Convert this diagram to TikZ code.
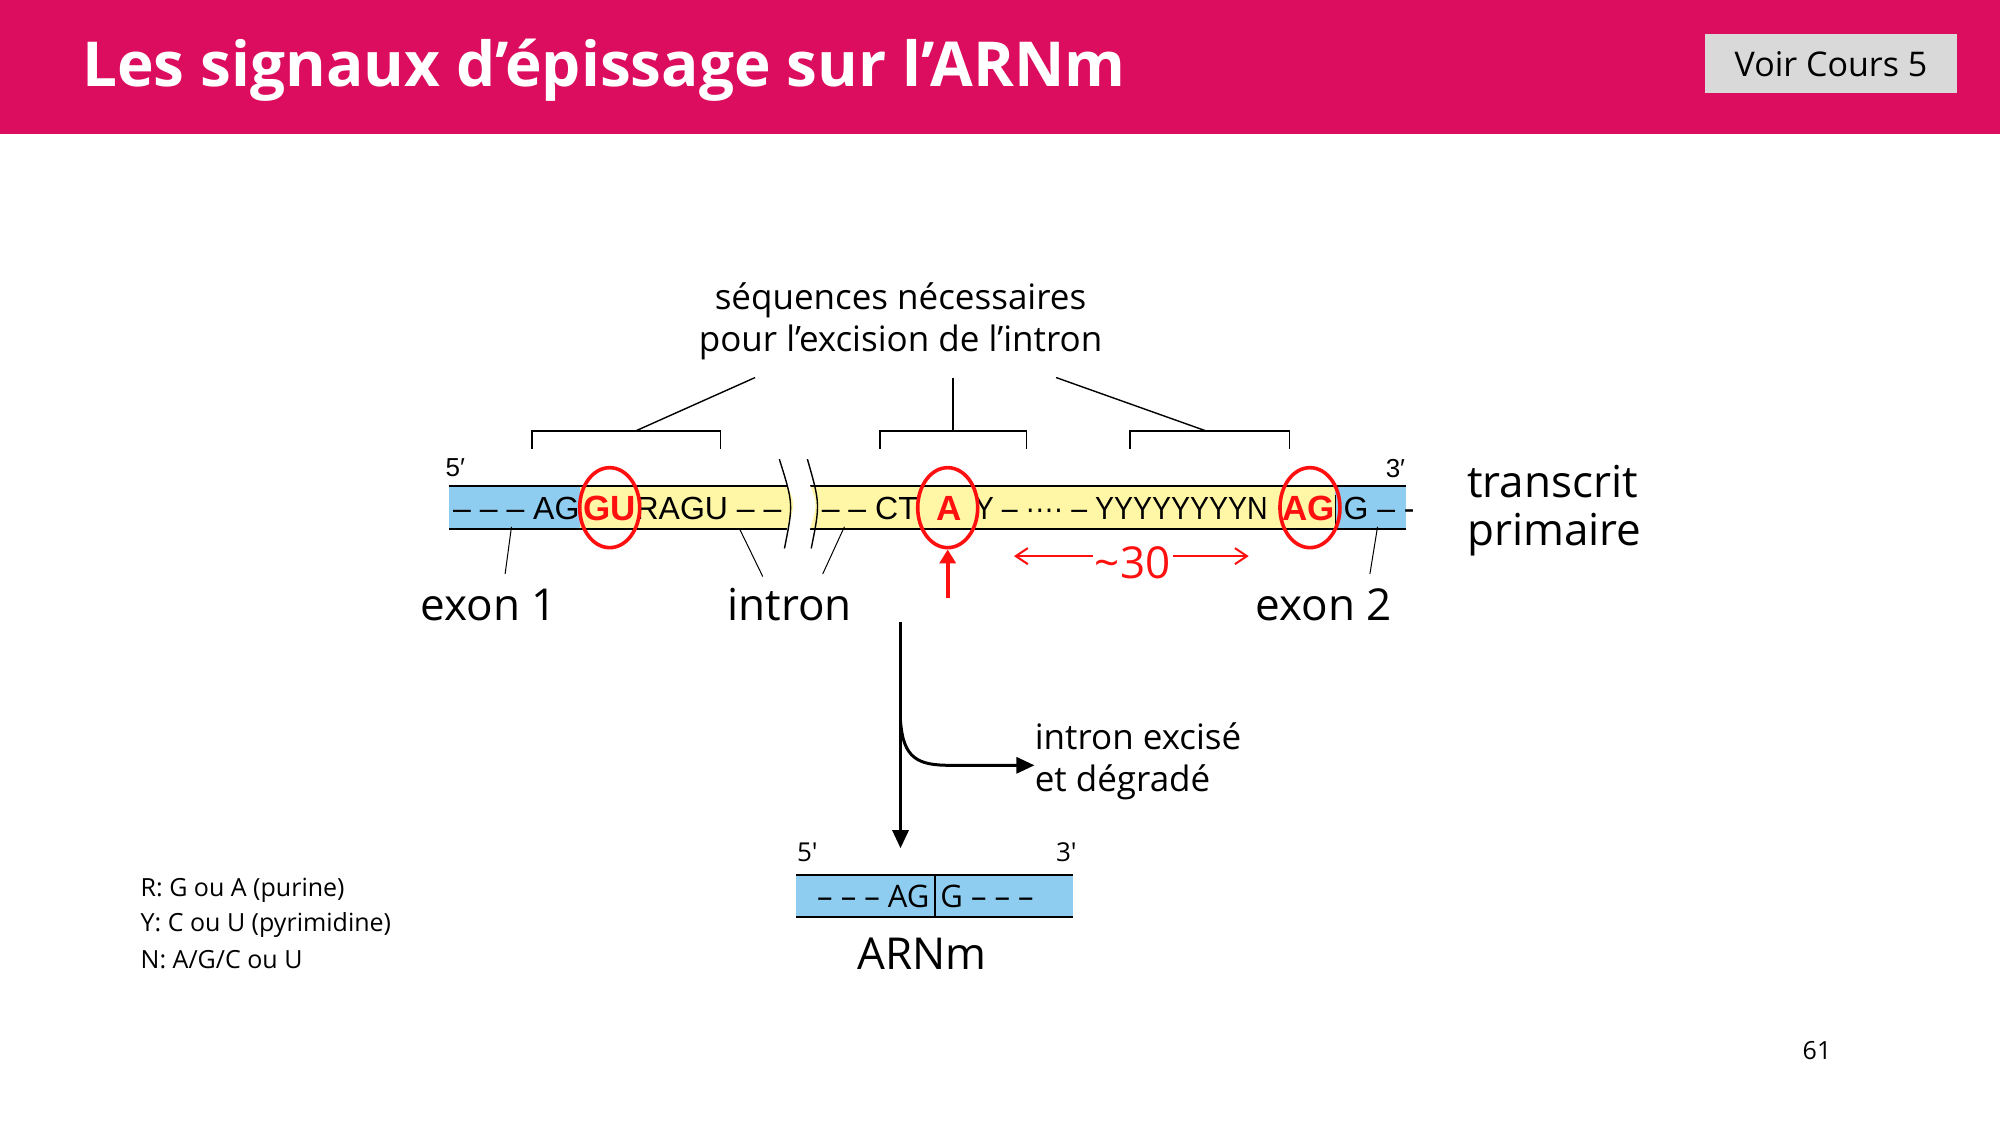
\documentclass[tikz,border=0pt]{standalone}
\usepackage{fontspec}
\setmainfont{Open Sans}
\newfontfamily\seqf{Liberation Sans}
\usetikzlibrary{arrows.meta}
\definecolor{hdr}{HTML}{DC0C5E}
\definecolor{bblue}{HTML}{8FCDF0}
\definecolor{byel}{HTML}{FFF6A6}
\definecolor{rred}{HTML}{FF1010}
\tikzset{
  lbl/.style={inner sep=0pt,font=\fontsize{22}{24}\selectfont},
  mid/.style={inner sep=0pt,font=\fontsize{17.5}{21}\selectfont,align=left},
  seq/.style={inner sep=0pt,font=\seqf\fontsize{16}{18}\selectfont},
  redseq/.style={inner sep=0pt,text=rred,font=\seqf\bfseries\fontsize{17.5}{18}\selectfont},
  prime/.style={inner sep=0pt,font=\seqf\fontsize{13}{14}\selectfont},
  ring/.style={draw=rred,line width=1.8pt,ellipse,minimum width=30pt,minimum height=40pt},
  brk/.style={line width=0.7pt},
  rarrow/.style={draw=rred,line width=1pt,-{Straight Barb[length=6pt,width=8pt]}},
  legend/.style={inner sep=0pt,anchor=west,font=\fontsize{12.5}{15}\selectfont}
}
\usetikzlibrary{shapes.geometric}
\begin{document}
\begin{tikzpicture}[x=0.6378pt,y=-0.6378pt]
\useasboundingbox (0,0) rectangle (1568,882);
\fill[white] (0,0) rectangle (1568,882);
\fill[hdr] (0,0) rectangle (1568,105);
\node[anchor=west,inner sep=0pt,text=white,font=\bfseries\fontsize{31}{34}\selectfont] (title) at (64,55) {Les signaux d’épissage sur l’ARNm};
\node[fill=gray!30,minimum width=197*0.6378pt,minimum height=46*0.6378pt,inner sep=0pt,font=\fontsize{17}{20}\selectfont] (voir) at (1435.5,50) {Voir Cours 5};

% transcript bar
\fill[bblue] (352,381) rectangle (455,415);
\fill[byel] (455,381) rectangle (1047,415);
\fill[bblue] (1047,381) rectangle (1102,415);
\draw[line width=1pt] (352,381) -- (1102,381) (352,415) -- (1102,415);
\fill[white] (616,378) .. controls (624,395) .. (616,418) -- (634,418) .. controls (641,395) .. (634,378) -- cycle;
\draw[line width=0.7pt] (611,360) .. controls (622,395) .. (615,430);
\draw[line width=0.7pt] (633,360) .. controls (643,395) .. (636,430);
\draw[line width=0.7pt] (1047,388) -- (1047,412);
\node[prime] (p5) at (357,367) {5′};
\node[prime] (p3) at (1094,367) {3′};

\node[seq,anchor=west] (s1) at (355,399) {– – – AG};
\node[redseq] (gu) at (478,399) {GU};
\node[seq,anchor=west] (s2) at (498,399) {RAGU – –};
\node[seq,anchor=west] (s3) at (644,399) {– – CT};
\node[redseq] (a) at (744,399) {A};
\node[seq,anchor=west] (s4) at (764,399) {\scalebox{0.89}[1]{Y – ···· – YYYYYYYYN}};
\node[redseq] (ag) at (1026,399) {AG};
\node[seq,anchor=west] (s5) at (1053,399) {G – -};
\node[ring] (c1) at (478,398) {};
\node[ring] (c2) at (743,398) {};
\node[ring] (c3) at (1027,398) {};

% brackets
\node[mid,align=center] (seqlbl) at (706,252) {séquences nécessaires\\pour l’excision de l’intron};
\coordinate (b1) at (498,338); \coordinate (t1) at (592,296);
\coordinate (b2) at (747,338); \coordinate (t2) at (747,296);
\coordinate (b3) at (946,338); \coordinate (t3) at (828,296);
\draw[brk] (417,352) -- (417,338) -- (565,338) -- (565,352);
\draw[brk] (690,352) -- (690,338) -- (805,338) -- (805,352);
\draw[brk] (886,352) -- (886,338) -- (1011,338) -- (1011,352);
\draw[brk] (b1) -- (t1); \draw[brk] (b2) -- (t2); \draw[brk] (b3) -- (t3);

% labels
\node[lbl] (ex1) at (383,474) {exon 1};
\node[lbl] (intr) at (619,474) {intron};
\node[lbl] (ex2) at (1038,474) {exon 2};
\node[lbl,anchor=west,align=left] (tp) at (1150,400) {transcrit\\primaire};
\draw[line width=0.5pt] (401,413) -- (396,450);
\draw[line width=0.5pt] (580,415) -- (598,452);
\draw[line width=0.5pt] (662,413) -- (645,450);
\draw[line width=0.5pt] (1080,413) -- (1074,450);

% red arrows
\coordinate (ra0) at (743,469);
\draw[draw=rred,line width=2.2pt,-{Triangle[length=7pt,width=8pt]}] (ra0) -- (c2.south);
\node[inner sep=1pt,text=rred,font=\fontsize{22}{24}\selectfont] (n30) at (888,441) {\char`~30};
\coordinate (l30) at (795,436); \coordinate (r30) at (979,436);
\draw[rarrow] (n30.west|-l30) -- (l30);
\draw[rarrow] (n30.east|-r30) -- (r30);

% splicing arrow
\coordinate (d0) at (706,488);
\node[mid] (exc) at (811,597) [anchor=west] {intron excisé\\et dégradé};
\draw[line width=1.5pt,-{Triangle[length=9pt,width=8pt]}] (d0) -- (706,665);
\draw[line width=1.5pt,-{Triangle[length=9pt,width=8pt]}] (706,565) .. controls (708,595) and (720,600) .. (745,600) -- (exc.west|-0,600);

% mRNA
\fill[bblue] (624,686) rectangle (841,719);
\draw[line width=1pt] (624,686) -- (841,686) (624,719) -- (841,719);
\draw[line width=0.7pt] (733,686) -- (733,719);
\node[prime,font=\fontsize{13}{14}\selectfont] (m5) at (633,668) {5′};
\node[prime,font=\fontsize{13}{14}\selectfont] (m3) at (836,668) {3′};
\node[inner sep=0pt,anchor=east,font=\fontsize{15.5}{16}\selectfont] (ma) at (729,703) {– – – AG};
\node[inner sep=0pt,anchor=west,font=\fontsize{15.5}{16}\selectfont] (mb) at (737,703) {G – – –};
\node[lbl] (arnm) at (723,748) {ARNm};

% legend
\node[legend] (l1) at (110,698) {R: G ou A (purine)};
\node[legend] (l2) at (110,725) {Y: C ou U (pyrimidine)};
\node[legend] (l3) at (110,752) {N: A/G/C ou U};
\node[legend] (pg) at (1413,824) {61};
\end{tikzpicture}
\end{document}
